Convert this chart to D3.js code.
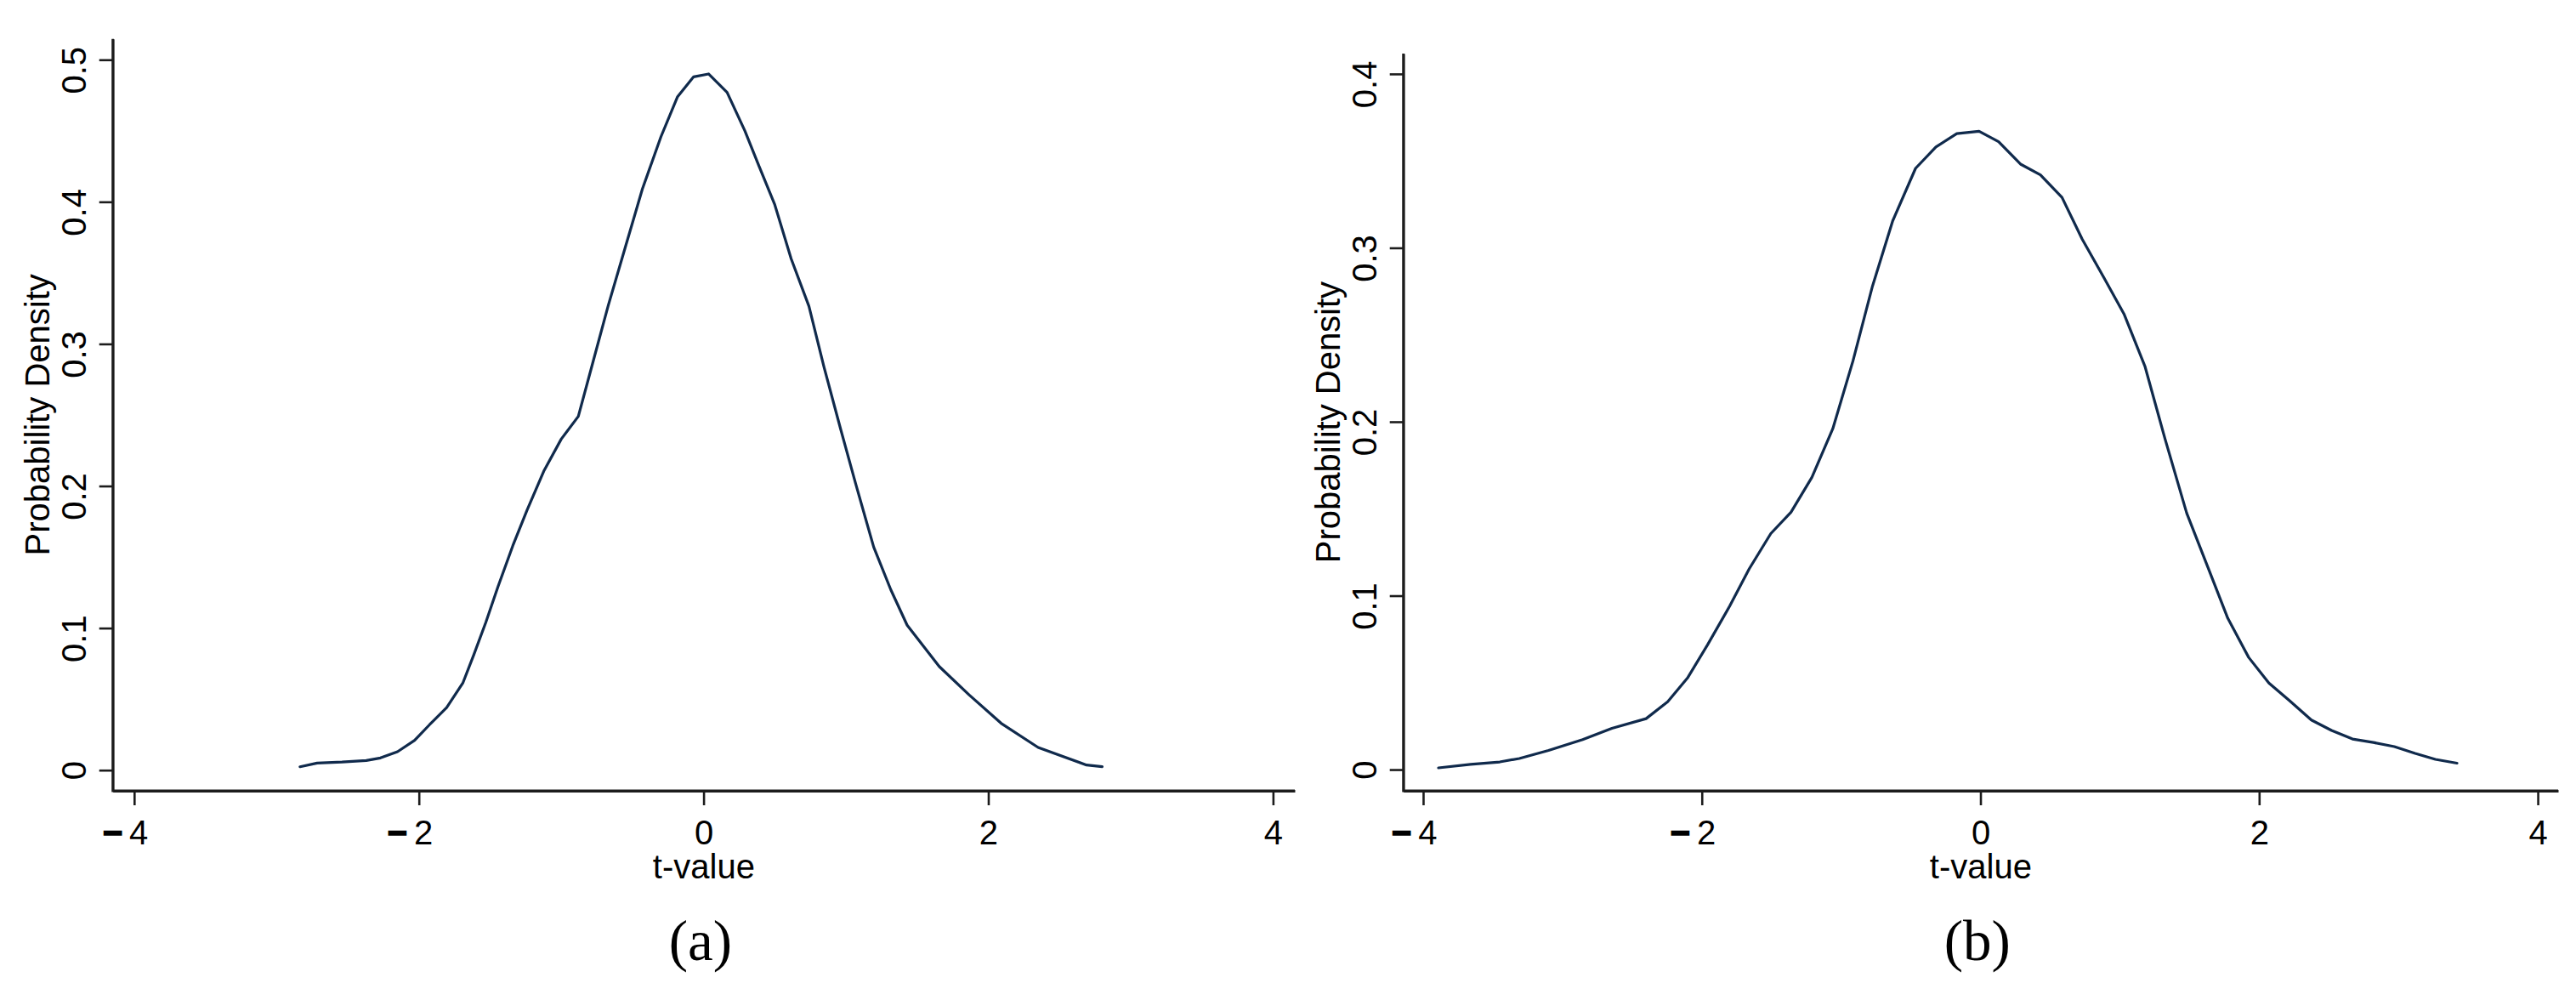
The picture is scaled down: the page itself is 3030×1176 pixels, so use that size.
<!DOCTYPE html>
<html>
<head>
<meta charset="utf-8">
<script src="https://cdn.jsdelivr.net/npm/d3@7"></script>
<style>
  html, body { margin: 0; padding: 0; background: #ffffff; }
  svg { display: block; }
</style>
</head>
<body>
<script>
// ---------- data ----------
const xTicks = [-4, -2, 0, 2, 4];
const yTicksA = [0, 0.1, 0.2, 0.3, 0.4, 0.5];
const yTicksB = [0, 0.1, 0.2, 0.3, 0.4];
const xTitle = "t-value";
const yTitle = "Probability Density";
const panelLabels = ["(a)", "(b)"];

// panel (a): t-value grid and density
const tA = [-2.835, -2.715, -2.54, -2.37, -2.27, -2.15, -2.03, -1.925, -1.805, -1.69,
            -1.615, -1.53, -1.445, -1.34, -1.24, -1.12, -1.0, -0.88, -0.775, -0.67,
            -0.55, -0.43, -0.30, -0.184, -0.07, 0.035, 0.165, 0.29, 0.39, 0.50,
            0.615, 0.74, 0.845, 0.96, 1.07, 1.195, 1.315, 1.43, 1.655, 1.865,
            2.09, 2.35, 2.69, 2.80];
const densA = [0.0024, 0.005, 0.0057, 0.0068, 0.0086, 0.013, 0.021, 0.032, 0.044, 0.0616,
               0.081, 0.104, 0.129, 0.158, 0.183, 0.211, 0.233, 0.249, 0.288, 0.327,
               0.368, 0.409, 0.4457, 0.4738, 0.488, 0.490, 0.477, 0.450, 0.425, 0.398,
               0.360, 0.3265, 0.284, 0.241, 0.201, 0.157, 0.127, 0.102, 0.073, 0.053,
               0.033, 0.016, 0.0036, 0.0024];

// panel (b)
const tB = [-3.89, -3.66, -3.45, -3.31, -3.10, -2.855, -2.645, -2.40, -2.245, -2.10,
            -1.96, -1.80, -1.66, -1.505, -1.36, -1.21, -1.06, -0.915, -0.775, -0.63,
            -0.466, -0.32, -0.17, -0.01, 0.13, 0.29, 0.43, 0.585, 0.73, 0.885,
            1.03, 1.18, 1.325, 1.48, 1.64, 1.775, 1.925, 2.07, 2.22, 2.375,
            2.52, 2.67, 2.82, 2.97, 3.12, 3.265, 3.42];
const densB = [0.001, 0.003, 0.0044, 0.0064, 0.011, 0.0173, 0.0237, 0.0293, 0.039, 0.053,
               0.0716, 0.094, 0.1154, 0.1357, 0.148, 0.168, 0.196, 0.235, 0.278, 0.3155,
               0.3457, 0.358, 0.3657, 0.367, 0.361, 0.348, 0.342, 0.329, 0.305, 0.283,
               0.262, 0.232, 0.190, 0.1475, 0.1147, 0.087, 0.0645, 0.0498, 0.0395, 0.0285,
               0.0225, 0.0176, 0.0156, 0.0132, 0.0093, 0.0059, 0.0037];

// ---------- layout ----------
const W = 3030, H = 1176;
const FONT = "Arial, 'Liberation Sans', Helvetica, sans-serif";
const SERIF = "'Times New Roman', 'Liberation Serif', Times, serif";
const LINE_COLOR = "#102a4c";
const AXIS_COLOR = "#1c1c1c";

const panels = [
  { t: tA, d: densA, yTicks: yTicksA, label: panelLabels[0],
    xDomain: [-4.15, 4.153], xRange: [132.7, 1523],
    yDomain: [-0.01454, 0.5147], yRange: [930, 45.7] },
  { t: tB, d: densB, yTicks: yTicksB, label: panelLabels[1],
    xDomain: [-4.142, 4.146], xRange: [1650.7, 3009],
    yDomain: [-0.0122, 0.4117], yRange: [930, 63] }
];

const svg = d3.select("body").append("svg")
  .attr("width", W).attr("height", H)
  .attr("viewBox", `0 0 ${W} ${H}`);

svg.append("rect").attr("width", W).attr("height", H).attr("fill", "#ffffff");

function fmtY(v) { return v === 0 ? "0" : d3.format(".1f")(v); }

panels.forEach(p => {
  const x = d3.scaleLinear().domain(p.xDomain).range(p.xRange);
  const y = d3.scaleLinear().domain(p.yDomain).range(p.yRange);
  const x0 = p.xRange[0], x1 = p.xRange[1];
  const yb = p.yRange[0], yt = p.yRange[1];
  const g = svg.append("g");

  // x axis
  const gx = g.append("g")
    .attr("transform", `translate(0,${yb})`)
    .call(d3.axisBottom(x).tickValues(xTicks).tickSize(17).tickSizeOuter(0).tickFormat(() => ""));
  gx.select(".domain").attr("stroke", AXIS_COLOR).attr("stroke-width", 2.8);
  gx.selectAll(".tick line").attr("stroke", AXIS_COLOR).attr("stroke-width", 2.6);
  gx.selectAll(".tick text").remove();
  gx.selectAll(".tick").each(function(v) {
    const tk = d3.select(this);
    const txt = tk.append("text")
      .attr("y", 63).attr("dy", 0)
      .attr("fill", "#000")
      .attr("font-family", FONT).attr("font-size", 40);
    if (v < 0) {
      txt.attr("text-anchor", "end").attr("x", 16);
      txt.append("tspan").attr("font-weight", "bold")
        .attr("stroke", "#000").attr("stroke-width", 1.6)
        .text("\u2212");
      txt.append("tspan").text("\u2009" + Math.abs(v));
    } else {
      txt.attr("text-anchor", "middle").attr("x", 0).text(String(v));
    }
  });

  // y axis
  const gy = g.append("g")
    .attr("transform", `translate(${x0},0)`)
    .call(d3.axisLeft(y).tickValues(p.yTicks).tickSize(16).tickSizeOuter(0).tickFormat(() => ""));
  gy.select(".domain").attr("stroke", AXIS_COLOR).attr("stroke-width", 2.8);
  gy.selectAll(".tick line").attr("stroke", AXIS_COLOR).attr("stroke-width", 2.6);
  gy.selectAll(".tick text").remove();
  gy.selectAll(".tick").each(function(v) {
    const s = fmtY(v);
    const off = s.length > 1 ? 12 : 0;
    d3.select(this).append("text")
      .attr("transform", `translate(-31.5,${off}) rotate(-90)`)
      .attr("text-anchor", "middle")
      .attr("fill", "#000")
      .attr("font-family", FONT).attr("font-size", 40)
      .text(s);
  });

  // close the corner so both axis lines meet cleanly
  g.append("path")
    .attr("d", `M${x0},${yt}V${yb}H${x1}`)
    .attr("fill", "none").attr("stroke", AXIS_COLOR).attr("stroke-width", 2.8);

  // axis titles
  g.append("text")
    .attr("transform", `translate(${x0 - 75},${(yb + yt) / 2}) rotate(-90)`)
    .attr("text-anchor", "middle")
    .attr("fill", "#000")
    .attr("font-family", FONT).attr("font-size", 40)
    .text(yTitle);

  g.append("text")
    .attr("x", (x0 + x1) / 2).attr("y", 1033)
    .attr("text-anchor", "middle")
    .attr("fill", "#000")
    .attr("font-family", FONT).attr("font-size", 40)
    .text(xTitle);

  // panel label
  g.append("text")
    .attr("x", (x0 + x1) / 2 - 4).attr("y", 1129)
    .attr("text-anchor", "middle")
    .attr("fill", "#000")
    .attr("font-family", SERIF).attr("font-size", 67)
    .text(p.label);

  // density curve
  const pts = p.t.map((tv, i) => [tv, p.d[i]]);
  const line = d3.line().x(d => x(d[0])).y(d => y(d[1])).curve(d3.curveLinear);
  g.append("path")
    .datum(pts)
    .attr("d", line)
    .attr("fill", "none")
    .attr("stroke", LINE_COLOR)
    .attr("stroke-width", 3.2)
    .attr("stroke-linejoin", "round")
    .attr("stroke-linecap", "round");
});
</script>
</body>
</html>
